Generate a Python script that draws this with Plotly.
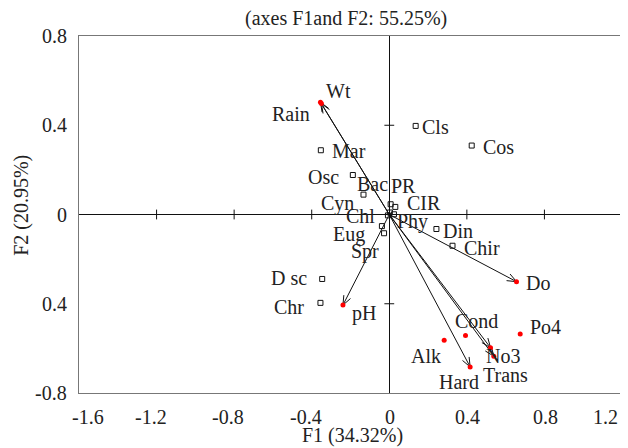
import math
import plotly.graph_objects as go

# ---------------- data ----------------
# variables (red points, some drawn as vectors from the origin)
var_names = ["Wt", "Rain", "Do", "pH", "Cond", "Po4", "Alk", "No3", "Trans", "Hard"]
var_f1 = [-0.355, -0.350, 0.656, -0.239, 0.393, 0.675, 0.283, 0.522, 0.539, 0.417]
var_f2 = [0.503, 0.497, -0.301, -0.406, -0.542, -0.536, -0.564, -0.597, -0.635, -0.683]
var_has_arrow = [True, True, True, True, False, False, False, True, True, True]

# observations (open squares)
obs_names = ["Cls", "Cos", "Mar", "Osc", "Bac", "PR", "CIR", "Cyn", "Chl", "Phy",
             "Eug", "Spr", "Din", "Chir", "D sc", "Chr"]
obs_f1 = [0.136, 0.425, -0.353, -0.188, -0.133, 0.007, 0.031, 0.003, -0.007, 0.024,
          -0.038, -0.027, 0.243, 0.326, -0.346, -0.355]
obs_f2 = [0.397, 0.309, 0.288, 0.177, 0.089, 0.046, 0.034, 0.009, -0.004, 0.001,
          -0.052, -0.084, -0.065, -0.140, -0.289, -0.396]

x_tick_vals = [-1.6, -1.2, -0.8, -0.4, 0, 0.4, 0.8, 1.2]
x_tick_text = ["-1.6", "-1.2", "-0.8", "-0.4", "0", "0.4", "0.8", "1.2"]
y_tick_vals = [0.8, 0.4, 0, -0.4, -0.8]
y_tick_text = ["0.8", "0.4", "0", "0.4", "-0.8"]

title_text = "(axes F1and F2: 55.25%)"
x_title = "F1 (34.32%)"
y_title = "F2 (20.95%)"

# ---------------- style / layout ----------------
# the page body has an 8px margin, so the figure is a bit smaller than the window
W, H = 620, 440
ML, MR, MT, MB = 71, 6, 28, 55
XR = [-1.6, 1.2]
YR = [-0.8, 0.8]
FONT = "Liberation Serif, Times New Roman, serif"
FS = 20
TXT = "#222222"

# label offsets in pixels (dx right, dy down) relative to each point
var_label_off = {
    "Wt": (18, -11), "Rain": (-30, 10), "Do": (21, 1), "pH": (21, 8),
    "Cond": (11, -14), "Po4": (25, -7), "Alk": (-18, 16), "No3": (12, 8),
    "Trans": (12, 19), "Hard": (-11, 15),
}
obs_label_off = {
    "Cls": (20, 1), "Cos": (27, 1), "Mar": (28, 1), "Osc": (-29, 2),
    "Bac": (9, -11), "PR": (13, -18), "CIR": (29, -4), "Cyn": (-52, -9),
    "Chl": (-27, 1), "Phy": (19, 7), "Eug": (-33, 8), "Spr": (-19, 18),
    "Din": (22, 2), "Chir": (29, 2), "D sc": (-33, -1), "Chr": (-31, 4),
}

pw, ph = W - ML - MR, H - MT - MB
sx = pw / (XR[1] - XR[0])
sy = ph / (YR[1] - YR[0])

fig = go.Figure()

# arrow shafts and heads
shaft_x, shaft_y, head_x, head_y = [], [], [], []
L, th = 10.0, math.radians(22)
for n, vx, vy, a in zip(var_names, var_f1, var_f2, var_has_arrow):
    if not a:
        continue
    shaft_x += [0, vx, None]
    shaft_y += [0, vy, None]
    dxp, dyp = vx * sx, vy * sy
    ln = math.hypot(dxp, dyp)
    ux, uy = dxp / ln, dyp / ln
    for s in (1, -1):
        c, si = math.cos(s * th), math.sin(s * th)
        rx, ry = ux * c - uy * si, ux * si + uy * c
        head_x += [vx - L * rx / sx, vx, None]
        head_y += [vy - L * ry / sy, vy, None]

fig.add_trace(go.Scatter(x=shaft_x, y=shaft_y, mode="lines",
                         line=dict(color="#111111", width=1), hoverinfo="skip"))
fig.add_trace(go.Scatter(x=head_x, y=head_y, mode="lines",
                         line=dict(color="#111111", width=1), hoverinfo="skip"))

# ticks on the central axes
xt_in = [v for v in x_tick_vals if v not in (0, XR[0], XR[1])]
yt_in = [v for v in y_tick_vals if v not in (0, YR[0], YR[1])]
fig.add_trace(go.Scatter(x=xt_in, y=[0] * len(xt_in), mode="markers",
                         marker=dict(symbol="line-ns", size=7,
                                     line=dict(color="#111111", width=1)),
                         hoverinfo="skip"))
fig.add_trace(go.Scatter(x=[0] * len(yt_in), y=yt_in, mode="markers",
                         marker=dict(symbol="line-ew", size=7,
                                     line=dict(color="#111111", width=1)),
                         hoverinfo="skip"))

# observation squares
fig.add_trace(go.Scatter(x=obs_f1, y=obs_f2, mode="markers",
                         marker=dict(symbol="square-open", size=5,
                                     line=dict(color="#111111", width=1),
                                     color="#111111"),
                         name="Observations"))
# variable points
fig.add_trace(go.Scatter(x=var_f1, y=var_f2, mode="markers",
                         marker=dict(symbol="circle", size=5, color="#ff0000"),
                         name="Variables"))

annotations = []
for n, vx, vy in zip(var_names, var_f1, var_f2):
    dx, dy = var_label_off[n]
    annotations.append(dict(x=vx, y=vy, text=n, showarrow=False, xshift=dx, yshift=-dy,
                            xanchor="center", yanchor="middle",
                            font=dict(family=FONT, size=FS, color=TXT)))
for n, ox, oy in zip(obs_names, obs_f1, obs_f2):
    dx, dy = obs_label_off[n]
    annotations.append(dict(x=ox, y=oy, text=n, showarrow=False, xshift=dx, yshift=-dy,
                            xanchor="center", yanchor="middle",
                            font=dict(family=FONT, size=FS, color=TXT)))

# x tick labels
for v, t in zip(x_tick_vals, x_tick_text):
    if v == XR[0]:
        anc, shift = "left", -9
    elif v == XR[1]:
        anc, shift = "right", -2
    elif v < 0:
        anc, shift = "center", -6
    else:
        anc, shift = "center", 1
    annotations.append(dict(x=v, xref="x", y=0, yref="paper", text=t, showarrow=False,
                            xanchor=anc, yanchor="middle", xshift=shift, yshift=-24,
                            font=dict(family=FONT, size=FS, color=TXT)))
# y tick labels
for v, t in zip(y_tick_vals, y_tick_text):
    annotations.append(dict(x=0, xref="paper", y=v, yref="y", text=t, showarrow=False,
                            xanchor="right", yanchor="middle", xshift=-10,
                            font=dict(family=FONT, size=FS, color=TXT)))

annotations.append(dict(x=0.492, y=1.05, xref="paper", yref="paper", text=title_text,
                        showarrow=False, xanchor="center", yanchor="middle",
                        font=dict(family=FONT, size=FS, color=TXT)))
annotations.append(dict(x=0.503, y=-0.12, xref="paper", yref="paper", text=x_title,
                        showarrow=False, xanchor="center", yanchor="middle",
                        font=dict(family=FONT, size=FS, color=TXT)))
annotations.append(dict(x=-0.105, y=0.527, xref="paper", yref="paper", text=y_title,
                        showarrow=False, xanchor="center", yanchor="middle", textangle=-90,
                        font=dict(family=FONT, size=FS, color=TXT)))

fig.update_layout(
    width=W, height=H,
    margin=dict(l=ML, r=MR, t=MT, b=MB),
    paper_bgcolor="white", plot_bgcolor="white",
    showlegend=False,
    annotations=annotations,
    xaxis=dict(range=XR, showgrid=False, zeroline=True, zerolinecolor="#111111",
               zerolinewidth=1, showline=True, mirror=True, linecolor="#777777",
               linewidth=1, ticks="", showticklabels=False, fixedrange=True),
    yaxis=dict(range=YR, showgrid=False, zeroline=True, zerolinecolor="#111111",
               zerolinewidth=1, showline=True, mirror=True, linecolor="#777777",
               linewidth=1, ticks="", showticklabels=False, fixedrange=True),
)

fig.write_html("out.html")
